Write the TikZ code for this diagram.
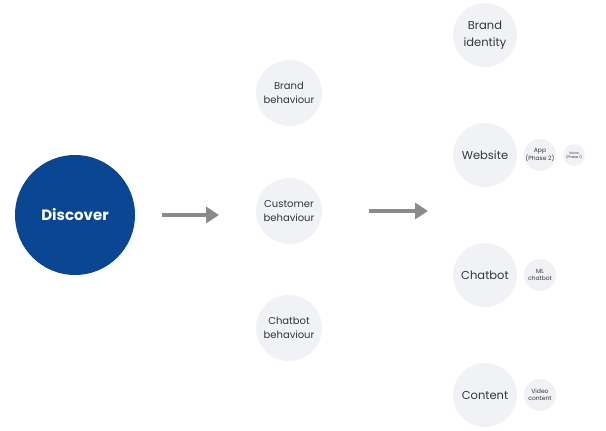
\documentclass[tikz,border=0pt]{standalone}
\usepackage{fontspec}
\setmainfont{Poppins}
\usetikzlibrary{arrows.meta}
\definecolor{discblue}{HTML}{0B4692}
\definecolor{bubble}{HTML}{F1F2F6}
\definecolor{txt}{HTML}{33363B}
\definecolor{arrowgray}{HTML}{8A8A8A}
\tikzset{
  x=1pt, y=-1pt,
  bub/.style={circle, fill=bubble, text=txt, align=center, inner sep=0pt, minimum size=#1},
  flow/.style={draw=arrowgray, line width=4pt, -{Triangle[length=13pt,width=16pt]}}
}
\begin{document}
\begin{tikzpicture}
\useasboundingbox (0,0) rectangle (606,431);
\node[circle, fill=discblue, text=white, minimum size=120pt, inner sep=0pt, font=\fontsize{15}{17}\selectfont\bfseries] (disc) at (75,215) {Discover};
% middle column
\node[bub=66pt, font=\fontsize{10}{14}\selectfont] (bb) at (289,93) {Brand\\behaviour};
\node[bub=66pt, font=\fontsize{10}{14}\selectfont] (cb) at (289,211) {Customer\\behaviour};
\node[bub=66pt, font=\fontsize{10}{14}\selectfont] (chb) at (289,328) {Chatbot\\behaviour};
% right column
\node[bub=64pt, font=\fontsize{11.5}{17}\selectfont] (bi) at (485,35) {Brand\\identity};
\node[bub=64pt, font=\fontsize{11.5}{14}\selectfont] (web) at (485,155) {Website};
\node[bub=64pt, font=\fontsize{11.5}{14}\selectfont] (chat) at (485,275) {Chatbot};
\node[bub=64pt, font=\fontsize{11.5}{14}\selectfont] (cont) at (485,395) {Content};
% small bubbles
\node[bub=32pt, font=\fontsize{6}{7}\selectfont] (app) at (540,155) {App\\(Phase 2)};
\node[bub=22pt, font=\fontsize{3.5}{4}\selectfont] (voice) at (574,155) {Voice\\(Phase 1)};
\node[bub=32pt, font=\fontsize{6}{7}\selectfont] (ml) at (540,275) {ML\\chatbot};
\node[bub=32pt, font=\fontsize{6}{7}\selectfont] (vid) at (540,395) {Video\\content};
% arrows
\coordinate (a1s) at (162,215);
\coordinate (a1e) at (219,215);
\coordinate (a2s) at (369,211);
\coordinate (a2e) at (428,211);
\draw[flow] (a1s) -- (a1e);
\draw[flow] (a2s) -- (a2e);
\end{tikzpicture}
\end{document}
